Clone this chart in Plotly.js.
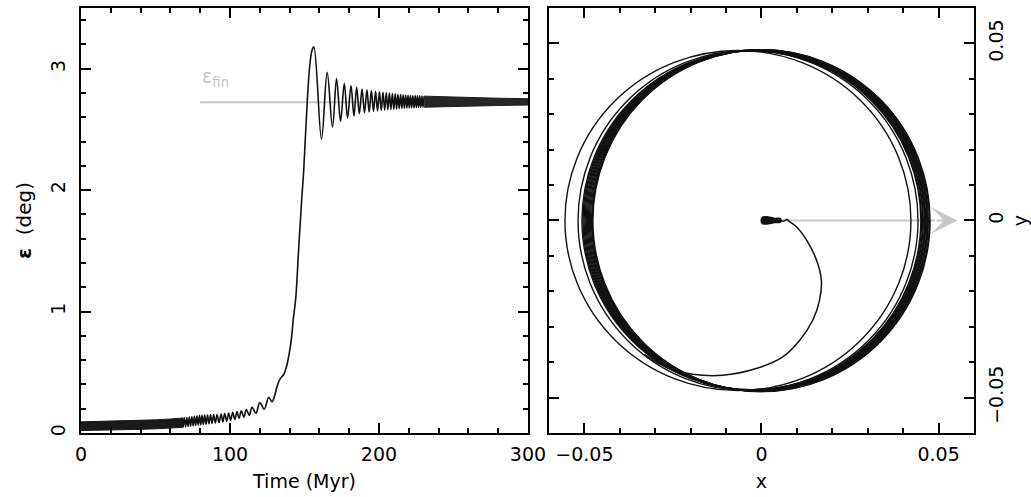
<!DOCTYPE html>
<html>
<head>
<meta charset="utf-8">
<script src="https://cdn.plot.ly/plotly-3.0.1.min.js"></script>
<style>
  html, body { margin: 0; padding: 0; background: #ffffff; }
  #chart { width: 1031px; height: 497px; }
</style>
</head>
<body>
<div id="chart"></div>
<script>
// ---------- Left panel: obliquity epsilon (deg) against time (Myr) ----------

// Early fast oscillation, too dense to resolve: upper / lower envelope
const bandEarlyT  = [0, 10, 20, 30, 40, 50, 60, 68.5];
const bandEarlyHi = [0.092, 0.094, 0.097, 0.100, 0.104, 0.108, 0.115, 0.124];
const bandEarlyLo = [0.020, 0.022, 0.024, 0.027, 0.030, 0.034, 0.040, 0.047];

// Resolved part of the track: oscillation extrema, capture ramp, damped ringing
const trackT = [
  68.5, 69.3, 70.15, 71.0, 71.85, 72.7, 73.55, 74.4, 75.25, 76.1,
  76.95, 77.8, 78.65, 79.5, 80.35, 81.2, 82.1, 83.0, 83.95, 84.9,
  85.9, 86.9, 87.95, 89.0, 90.15, 91.3, 92.6, 94.0, 95.2, 96.4,
  97.8, 99.1, 100.4, 101.8, 103.2, 104.7, 106.1, 107.6, 109.3, 111.0,
  112.9, 114.8, 117.4, 120.0, 123.0, 126.0, 128.2,
  130.0, 131.5, 133.0, 134.5, 136.0, 137.3, 138.4, 139.5, 140.6, 141.5,
  142.4, 143.3, 144.2, 146.0, 148.0, 149.5, 151.8, 153.5, 155.0, 156.3,
  161.4, 165.2, 168.8, 171.5, 174.2, 176.7, 178.9, 181.2, 183.2, 185.0,
  186.8, 188.6, 190.25, 191.9, 193.4, 194.9, 196.3, 197.7, 199.0, 200.3,
  201.5, 202.7, 203.8, 204.9, 205.95, 207.0, 208.0, 209.0, 209.95, 210.9,
  211.8, 212.7, 213.6, 214.5, 215.35, 216.2, 217.05, 217.9, 218.7, 219.5,
  220.3, 221.1, 221.9, 222.7, 223.5, 224.3, 225.05, 225.8, 226.55, 227.3,
  228.05, 228.8, 229.55, 230.3
];
const trackEps = [
  0.047, 0.126, 0.050, 0.128, 0.053, 0.131, 0.056, 0.134, 0.059, 0.137,
  0.062, 0.140, 0.065, 0.143, 0.068, 0.145, 0.070, 0.147, 0.073, 0.148,
  0.076, 0.150, 0.079, 0.151, 0.082, 0.152, 0.086, 0.156, 0.092, 0.160,
  0.098, 0.165, 0.105, 0.170, 0.112, 0.176, 0.121, 0.183, 0.130, 0.192,
  0.145, 0.212, 0.163, 0.250, 0.196, 0.294, 0.258,
  0.31, 0.38, 0.43, 0.46, 0.48, 0.52, 0.57, 0.64, 0.72, 0.81,
  0.93, 1.02, 1.12, 1.50, 1.90, 2.17, 2.72, 3.02, 3.15, 3.18,
  2.42, 2.97, 2.52, 2.92, 2.566, 2.88, 2.594, 2.86, 2.61, 2.847,
  2.63, 2.833, 2.637, 2.826, 2.643, 2.820, 2.648, 2.815, 2.652, 2.810,
  2.656, 2.806, 2.659, 2.802, 2.662, 2.799, 2.665, 2.796, 2.667, 2.793,
  2.669, 2.790, 2.671, 2.788, 2.673, 2.786, 2.675, 2.784, 2.676, 2.782,
  2.677, 2.780, 2.678, 2.779, 2.679, 2.778, 2.680, 2.777, 2.681, 2.776,
  2.682, 2.775, 2.683, 2.774
];

// Late ringing around the final state, too dense to resolve: envelope
const bandLateT  = [230.3, 245, 260, 280, 300];
const bandLateHi = [2.774, 2.768, 2.762, 2.757, 2.753];
const bandLateLo = [2.683, 2.687, 2.692, 2.697, 2.701];

// Final obliquity level
const epsFin = 2.723;
const epsFinT = [80, 300];

// ---------- Right panel: spin-axis path in the (x, y) plane ----------

// Initial dense state near the origin (outline)
const blobX = [-0.0001, 0.0003, 0.0014, 0.0037, 0.0054, 0.0054, 0.0037, 0.0014, 0.0003, -0.0001];
const blobY = [0.0, 0.0009, 0.00105, 0.0006, 0.0005, -0.0004, -0.0006, -0.0010, -0.0009, 0.0];

// Outward spiral from the origin to the first precession loop
const spiralX = [0.0051, 0.0062, 0.0071, 0.0079, 0.0098, 0.0127, 0.0155, 0.0169, 0.0164, 0.0145,
                 0.0108, 0.0060, -0.0015, -0.0110, -0.0195, -0.0261, -0.0298, -0.0330];
const spiralY = [0.0, -0.0002, 0.0003, -0.0003, -0.0017, -0.0055, -0.0111, -0.0168, -0.0225, -0.0281,
                 -0.0338, -0.0385, -0.0418, -0.0437, -0.0434, -0.0418, -0.0399, -0.0378];

// Precession loops: left / right / top / bottom extent of each loop
const loopLeft   = [-0.0555, -0.0518, -0.0507, -0.0504, -0.0501, -0.0498, -0.0495, -0.0492,
                    -0.0489, -0.0486, -0.0483, -0.0480, -0.0478, -0.0476];
const loopRight  = [0.0422, 0.0442, 0.0450, 0.0452, 0.0455, 0.0457, 0.0460, 0.0462,
                    0.0464, 0.0467, 0.0469, 0.0471, 0.0474, 0.0476];
const loopTop    = [0.0480, 0.0480, 0.0479, 0.0479, 0.0480, 0.0480, 0.0480, 0.0481,
                    0.0481, 0.0481, 0.0482, 0.0482, 0.0482, 0.0482];
const loopBottom = [-0.0480, -0.0480, -0.0478, -0.0479, -0.0479, -0.0480, -0.0480, -0.0481,
                    -0.0481, -0.0482, -0.0482, -0.0482, -0.0483, -0.0483];

// Direction of the final state
const arrowTail = [0.0052, 0.0];
const arrowTip  = [0.0553, 0.0];
const arrowHeadStart = 0.0490;

// ---------- Styling ----------
const FONT = 'DejaVu Sans, Liberation Sans, sans-serif';
const INK = '#111111';
const GREY = '#c8c8c8';

const traces = [];

// final obliquity reference line
traces.push({
  x: epsFinT, y: [epsFin, epsFin], xaxis: 'x', yaxis: 'y',
  mode: 'lines', line: { color: GREY, width: 2 }, hoverinfo: 'skip'
});

// early band as a closed polygon
traces.push({
  x: bandEarlyT.concat(bandEarlyT.slice().reverse()),
  y: bandEarlyHi.concat(bandEarlyLo.slice().reverse()),
  xaxis: 'x', yaxis: 'y', mode: 'lines', fill: 'toself',
  fillcolor: '#1a1a1a', line: { color: '#1a1a1a', width: 1 }, hoverinfo: 'skip'
});

// resolved track
traces.push({
  x: trackT, y: trackEps, xaxis: 'x', yaxis: 'y',
  mode: 'lines', line: { color: INK, width: 1.6, shape: 'spline', smoothing: 1 },
  hoverinfo: 'skip'
});

// late band
traces.push({
  x: bandLateT.concat(bandLateT.slice().reverse()),
  y: bandLateHi.concat(bandLateLo.slice().reverse()),
  xaxis: 'x', yaxis: 'y', mode: 'lines', fill: 'toself',
  fillcolor: '#262626', line: { color: '#1c1c1c', width: 1 }, hoverinfo: 'skip'
});

// arrow shaft (kept under the loops)
traces.push({
  x: [arrowTail[0], arrowHeadStart], y: [arrowTail[1], arrowTip[1]],
  xaxis: 'x2', yaxis: 'y2', mode: 'lines', line: { color: GREY, width: 2 }, hoverinfo: 'skip'
});

// initial state blob
traces.push({
  x: blobX, y: blobY, xaxis: 'x2', yaxis: 'y2', mode: 'lines', fill: 'toself',
  fillcolor: INK, line: { color: INK, width: 1.5, shape: 'spline' }, hoverinfo: 'skip'
});

// spiral
traces.push({
  x: spiralX, y: spiralY, xaxis: 'x2', yaxis: 'y2',
  mode: 'lines', line: { color: INK, width: 1.5, shape: 'spline', smoothing: 1 }, hoverinfo: 'skip'
});

// precession loops as ellipses on the data axes
const shapes = loopLeft.map((l, i) => ({
  type: 'circle', xref: 'x2', yref: 'y2', layer: 'above',
  x0: l, x1: loopRight[i], y0: loopBottom[i], y1: loopTop[i],
  line: { color: INK, width: 1.4 }
}));

const baseAxis = {
  showline: true, linecolor: '#000', linewidth: 2, mirror: 'ticks',
  ticks: 'inside', ticklen: 10, tickwidth: 2, tickcolor: '#000',
  showgrid: false, zeroline: false, automargin: false,
  tickfont: { family: FONT, size: 19, color: '#000' }
};

const layout = {
  width: 1031, height: 497,
  margin: { l: 0, r: 0, t: 0, b: 0 },
  paper_bgcolor: '#ffffff', plot_bgcolor: '#ffffff',
  showlegend: false,
  font: { family: FONT, size: 19, color: '#000' },
  xaxis: Object.assign({}, baseAxis, {
    domain: [0.0786, 0.5121], range: [0, 300], anchor: 'y',
    tick0: 0, dtick: 100,
    minor: { dtick: 20, ticks: 'inside', ticklen: 5, tickwidth: 2, tickcolor: '#000' },
    ticklabelstandoff: 3,
    title: { text: 'Time (Myr)', standoff: 11, font: { family: FONT, size: 19 } }
  }),
  yaxis: Object.assign({}, baseAxis, {
    domain: [0.1288, 0.9839], range: [0, 3.5], anchor: 'x',
    tick0: 0, dtick: 1, tickangle: -90,
    minor: { dtick: 0.2, ticks: 'inside', ticklen: 5, tickwidth: 2, tickcolor: '#000' },
    ticklabelstandoff: 6,
    title: { text: '<b>ε</b>  (deg)', standoff: 10, font: { family: FONT, size: 20 } }
  }),
  xaxis2: Object.assign({}, baseAxis, {
    domain: [0.5325, 0.9447], range: [-0.06, 0.06], anchor: 'y2',
    tick0: 0, dtick: 0.05,
    minor: { dtick: 0.01, ticks: 'inside', ticklen: 5, tickwidth: 2, tickcolor: '#000' },
    ticklabelstandoff: 3,
    title: { text: 'x', standoff: 11, font: { family: FONT, size: 19 } }
  }),
  yaxis2: Object.assign({}, baseAxis, {
    domain: [0.1288, 0.9839], range: [-0.06, 0.06], anchor: 'x2', side: 'right',
    tick0: 0, dtick: 0.05, tickangle: -90,
    minor: { dtick: 0.01, ticks: 'inside', ticklen: 5, tickwidth: 2, tickcolor: '#000' },
    ticklabelstandoff: 4,
    title: { text: 'y', standoff: 8, font: { family: FONT, size: 19 } }
  }),
  shapes: shapes,
  annotations: [
    {
      xref: 'x', yref: 'y', x: epsFinT[0], y: 2.93, xanchor: 'left', yanchor: 'middle',
      text: 'ε<sub>fin</sub>', showarrow: false,
      font: { family: FONT, size: 19, color: '#c4c4c4' }
    },
    {
      xref: 'x2', yref: 'y2', axref: 'x2', ayref: 'y2',
      x: arrowTip[0], y: arrowTip[1], ax: arrowHeadStart, ay: arrowTip[1],
      text: '', showarrow: true, arrowhead: 3, arrowsize: 2.2, arrowwidth: 2,
      arrowcolor: GREY, standoff: 0
    }
  ]
};

Plotly.newPlot('chart', traces, layout, { displayModeBar: false, staticPlot: true });
</script>
</body>
</html>
